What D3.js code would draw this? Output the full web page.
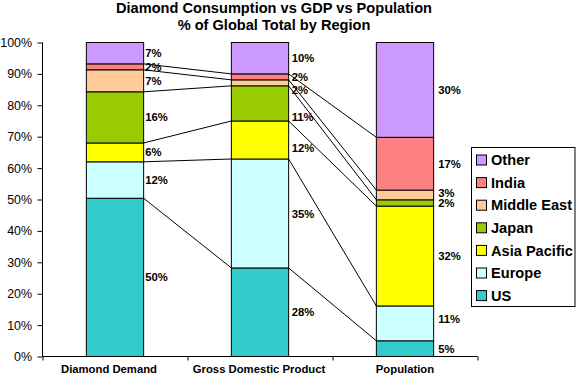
<!DOCTYPE html>
<html>
<head>
<meta charset="utf-8">
<script src="https://cdn.jsdelivr.net/npm/d3@7"></script>
<style>
  html, body { margin: 0; padding: 0; background: #fff; }
  svg { display: block; font-family: "Liberation Sans", Arial, sans-serif; }
</style>
</head>
<body>
<svg id="chart" width="577" height="375"></svg>
<script>
// ---- data ----
const categories = ["Diamond Demand", "Gross Domestic Product", "Population"];
const seriesNames = ["US", "Europe", "Asia Pacific", "Japan", "Middle East", "India", "Other"];
const usValues          = [50.4, 28.2, 5.0];
const europeValues      = [11.6, 34.7, 11.1];
const asiaPacificValues = [6.0, 12.1, 31.8];
const japanValues       = [16.3, 11.2, 2.0];
const middleEastValues  = [7.0, 1.9, 3.1];
const indiaValues       = [1.9, 1.9, 16.8];
const otherValues       = [6.8, 10.0, 30.2];
const yTickValues = [0, 10, 20, 30, 40, 50, 60, 70, 80, 90, 100];
const titleLines = ["Diamond Consumption vs GDP vs Population", "% of Global Total by Region"];

const seriesValues = [usValues, europeValues, asiaPacificValues, japanValues, middleEastValues, indiaValues, otherValues];
const colors = {
  "US": "#33CCCC", "Europe": "#CCFFFF", "Asia Pacific": "#FFFF00", "Japan": "#99CC00",
  "Middle East": "#FFCC99", "India": "#FF8080", "Other": "#CC99FF"
};

// ---- layout ----
const svg = d3.select("#chart");
const plot = { left: 42.5, right: 477.5, top: 42.5, bottom: 356.5 };
const x = d3.scaleBand().domain(categories).range([plot.left, plot.right]).paddingInner(0).paddingOuter(0);
const y = d3.scaleLinear().domain([0, 100]).range([plot.bottom, plot.top]);
const barFrac = 0.395;
const barW = x.bandwidth() * barFrac;
const barX = c => x(c) + (x.bandwidth() - barW) / 2;

// table rows
const rows = categories.map((c, i) => {
  const r = { category: c };
  seriesNames.forEach((s, j) => r[s] = seriesValues[j][i]);
  return r;
});
const stacked = d3.stack().keys(seriesNames)(rows);

// title
svg.append("g").selectAll("text").data(titleLines).join("text")
  .attr("x", 274).attr("y", (d, i) => i === 0 ? 12.5 : 30)
  .attr("text-anchor", "middle")
  .attr("font-size", "14.6px").attr("font-weight", "bold").attr("fill", "#000")
  .text(d => d);

// y axis
const yAxis = svg.append("g").attr("transform", `translate(${plot.left},0)`)
  .call(d3.axisLeft(y).tickValues(yTickValues).tickSize(5).tickPadding(5.5).tickFormat(d => d + "%"));
yAxis.selectAll("text").attr("font-size", "12.4px").attr("font-family", "'Liberation Sans', Arial, sans-serif").attr("fill", "#000");
yAxis.selectAll("line, path").attr("stroke", "#000");
yAxis.select("path").attr("d", `M0,${plot.top}V${plot.bottom}`);

// x axis with ticks at band boundaries
const bounds = categories.map(c => x(c)).concat([x(categories[categories.length - 1]) + x.bandwidth()]);
const xLin = d3.scaleLinear().domain([plot.left, plot.right]).range([plot.left, plot.right]);
const xAxis = svg.append("g").attr("transform", `translate(0,${plot.bottom})`)
  .call(d3.axisBottom(xLin).tickValues(bounds).tickSize(4).tickFormat(""));
xAxis.selectAll("line, path").attr("stroke", "#000");
xAxis.select("path").attr("d", `M${plot.left},0H${plot.right}`);

const xLabelDx = [-6, -1, 0];
svg.append("g").selectAll("text").data(categories).join("text")
  .attr("x", (c, i) => x(c) + x.bandwidth() / 2 + xLabelDx[i])
  .attr("y", 373)
  .attr("text-anchor", "middle").attr("font-size", "11.3px").attr("font-weight", "bold")
  .text(c => c);

// series lines (connect top of each segment between adjacent bars)
const lineG = svg.append("g");
stacked.forEach((layer, li) => {
  if (li === stacked.length - 1) return;
  for (let i = 0; i < categories.length - 1; i++) {
    lineG.append("line")
      .attr("x1", barX(categories[i]) + barW).attr("y1", y(layer[i][1]))
      .attr("x2", barX(categories[i + 1])).attr("y2", y(layer[i + 1][1]))
      .attr("stroke", "#000").attr("stroke-width", 1);
  }
});

// bars
const barG = svg.append("g");
stacked.forEach(layer => {
  barG.selectAll(null).data(layer).join("rect")
    .attr("x", d => barX(d.data.category))
    .attr("y", d => y(d[1]))
    .attr("width", barW)
    .attr("height", d => y(d[0]) - y(d[1]))
    .attr("fill", colors[layer.key])
    .attr("stroke", "#000").attr("stroke-width", 1);
});

// data labels
const labelDx = [1.5, 3, 4.5];
const labelDy = { "Gross Domestic Product|Middle East": 7, "Gross Domestic Product|Japan": 14, "Gross Domestic Product|Asia Pacific": 8, "Population|Middle East": -2, "Population|Europe": -4 };
const labelG = svg.append("g");
stacked.forEach(layer => {
  layer.forEach((d, i) => {
    const c = d.data.category;
    const key = c + "|" + layer.key;
    labelG.append("text")
      .attr("x", barX(c) + barW + labelDx[i])
      .attr("y", (y(d[0]) + y(d[1])) / 2 + (labelDy[key] || 0))
      .attr("dy", "0.36em")
      .attr("font-size", "11.3px").attr("font-weight", "bold")
      .text(Math.round(d[1] - d[0]) + "%");
  });
});

// legend
const legend = svg.append("g");
legend.append("rect").attr("x", 471.5).attr("y", 147.5).attr("width", 103.5).attr("height", 159)
  .attr("fill", "#fff").attr("stroke", "#000").attr("stroke-width", 1);
const legendItems = seriesNames.slice().reverse();
const lg = legend.selectAll("g.item").data(legendItems).join("g")
  .attr("transform", (d, i) => `translate(0,${160 + i * 22.6})`);
lg.append("rect").attr("x", 476.5).attr("y", -5).attr("width", 10).attr("height", 10)
  .attr("fill", d => colors[d]).attr("stroke", "#000").attr("stroke-width", 1);
lg.append("text").attr("x", 491).attr("y", 0).attr("dy", "0.36em")
  .attr("font-size", "14.6px").attr("font-weight", "bold").text(d => d);
</script>
</body>
</html>
